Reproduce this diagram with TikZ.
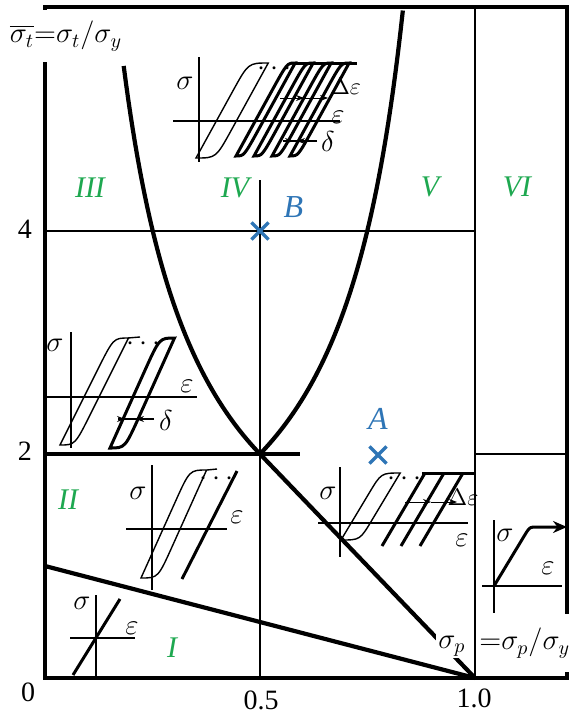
\documentclass[tikz,border=0pt]{standalone}
\usepackage{amsmath}
\usepackage{fontspec}
\setmainfont{Liberation Serif}
\usetikzlibrary{positioning,arrows.meta,shapes.misc}

\definecolor{zonegreen}{RGB}{30,168,80}
\definecolor{ptblue}{RGB}{46,117,182}

% hysteresis loop: [style] bottom x, bottom y, height, slope, width
\newcommand{\hloop}[6][]{%
  \draw[#1] (#2,#3) -- ({#2+0.7*#5*#4},{#3-0.7*#4})
    .. controls ({#2+#5*#4},{#3-#4}) .. ({#2+#5*#4+#6},{#3-#4})
    -- ({#2+0.3*#5*#4+#6},{#3-0.3*#4})
    .. controls ({#2+#6},{#3}) .. (#2,#3) -- cycle;}

\begin{document}
\begin{tikzpicture}[
        x=0.5pt, y=-0.5pt,
        frame/.style={line width=1.7pt},
        bound/.style={line width=2.1pt},
        gridline/.style={line width=0.8pt},
        axis/.style={line width=1pt},
        thinloop/.style={line width=0.7pt},
        thickloop/.style={line width=1.5pt},
        num/.style={font=\fontsize{14}{16}\selectfont, inner sep=1pt},
        sym/.style={font=\fontsize{14}{16}\selectfont, inner sep=1pt},
        small/.style={font=\fontsize{12}{14}\selectfont, inner sep=1pt},
        zone/.style={font=\fontsize{15}{17}\selectfont\itshape, text=zonegreen},
        ptlabel/.style={font=\fontsize{16}{18}\selectfont\itshape, text=ptblue},
        ptcross/.style={cross out, draw=ptblue, line width=1.6pt,
          minimum size=7pt, inner sep=0pt},
        arr/.style={-{Stealth[length=4pt]}}
      ]
      \useasboundingbox (0,0) rectangle (570,718);

      % key points of the diagram
      \coordinate (O)   at (45,678);
      \coordinate (T1)  at (45,566);
      \coordinate (P)   at (260,454);
      \coordinate (Q)   at (475,678);
      \coordinate (H2)  at (300,454);
      \coordinate (L2)  at (45,454);

      % thin grid lines
      \draw[gridline] (45,231) -- (475,231);
      \draw[gridline] (260,180) -- (260,678);
      \draw[gridline] (475,454) -- (567,454);

      % region boundaries
      \draw[bound] (T1) -- (Q);
      \draw[bound] (P) -- (Q);
      \draw[bound] (L2) -- (H2);
      \draw[bound] plot[domain=0.183:0.5, samples=60] ({45+430*\x},{678-112/\x});
      \draw[bound] plot[domain=0.5:0.833, samples=60] ({45+430*\x},{678-112/(1-\x)});

      % frame
      \draw[frame] (45,7) rectangle (567,678);

      % inset in region IV
      \draw[axis] (199,57) -- (199,162);
      \draw[axis] (173,121) -- (340,121);
      \hloop[thinloop]{196}{158}{95}{0.55}{20}
      \foreach \k in {0,...,3} {
        \pgfmathsetmacro\bx{236+18*\k}
        \hloop[thickloop]{\bx}{156}{93}{0.55}{8}
      }
      \draw[thickloop] (295,63) -- (357,63);
      \node[sym] (sigIV) at (185,83) {$\sigma$};
      \node[sym] (epsIV) at (338,117) {$\varepsilon$};
      \node[sym] (dotsIV) at (277,69) {$\cdots$};
      \coordinate (deIVa) at (280,98);
      \coordinate (deIVb) at (304,98);
      \coordinate (deIVc) at (328,98);
      \draw[arr] (deIVa) -- (deIVb);
      \draw[arr] (deIVb) -- (deIVc);
      \node[small, anchor=west] (deIV) at (328,86) {$\Delta\varepsilon$};
      \coordinate (dIVa) at (283,141);
      \coordinate (dIVb) at (317,141);
      \draw[line width=1.1pt] (dIVa) -- (dIVb);
      \draw[arr] (dIVa) -- (293,141);
      \draw[arr] (dIVb) -- (297,141);
      \node[sym] (dIV) at (328,141) {$\delta$};

      % inset in region III
      \draw[axis] (71,332) -- (71,448);
      \draw[axis] (45,397) -- (197,397);
      \hloop[thinloop]{60}{445}{107}{0.5}{15}
      \draw[thinloop] (128,338) -- (140,337);
      \hloop[thickloop]{110}{448}{110}{0.45}{15}
      \node[sym] (sigIII) at (55,345) {$\sigma$};
      \node[sym] (epsIII) at (187,386) {$\varepsilon$};
      \node[sym] (dotsIII) at (146,344) {$\cdots$};
      \coordinate (dIIIa) at (118,419);
      \coordinate (dIIIb) at (154,419);
      \draw[line width=1.1pt] (dIIIa) -- (dIIIb);
      \draw[arr] (dIIIa) -- (125,419);
      \draw[arr] (dIIIb) -- (136,419);
      \node[sym] (dIII) at (166,420) {$\delta$};

      % inset in region II
      \draw[axis] (152,465) -- (152,590);
      \draw[axis] (126,529) -- (227,529);
      \hloop[thinloop]{141}{578}{108}{0.45}{17}
      \draw[thinloop] (207,470) -- (217,469);
      \draw[thickloop] (237,471) -- (182,579);
      \node[sym] (sigII) at (138,493) {$\sigma$};
      \node[sym] (epsII) at (237,517) {$\varepsilon$};
      \node[sym] (dotsII) at (219,479) {$\cdots$};

      % inset near A
      \draw[axis] (340,467) -- (340,557);
      \draw[axis] (318,523) -- (468,523);
      \hloop[thinloop]{341}{540}{67}{0.6}{19}
      \draw[thickloop] (422,473) -- (475,473);
      \foreach \k in {0,1,2}
        \draw[thickloop] (425+19*\k,473) -- (382+19*\k,546);
      \node[sym] (sigA) at (328,493) {$\sigma$};
      \node[sym] (epsA) at (462,540) {$\varepsilon$};
      \node[sym] (dotsA) at (407,479) {$\cdots$};
      \coordinate (deAa) at (405,502);
      \coordinate (deAb) at (431,502);
      \coordinate (deAc) at (457,502);
      \draw[arr] (deAa) -- (deAb);
      \draw[arr] (deAb) -- (deAc);
      \node[small] (deA) at (463,497) {$\Delta\varepsilon$};

      % inset in region VI
      \draw[axis] (494,520) -- (494,613);
      \draw[axis] (482,586) -- (562,586);
      \draw[thickloop, -{Stealth[length=7pt,width=6pt]}] (494,586) -- (526,533)
        .. controls (530,527) .. (537,527) -- (567,527);
      \node[sym] (sigVI) at (505,535) {$\sigma$};
      \node[sym] (epsVI) at (548,568) {$\varepsilon$};

      % inset in region I
      \draw[axis] (96,595) -- (96,677);
      \draw[axis] (70,638) -- (135,638);
      \draw[thickloop] (73,675) -- (120,599);
      \node[sym] (sigI) at (82,603) {$\sigma$};
      \node[sym] (epsI) at (132,628) {$\varepsilon$};

      % axis titles
      \node[sym, fill=white, minimum height=26pt, inner sep=2pt] (tlab) at (66,36)
        {$\overline{\sigma_t}{=}\sigma_t/\sigma_y$};
      \node[sym, fill=white] (plab) at (452,646) {$\sigma_p$};
      \node[sym, fill=white, anchor=west, inner sep=0pt, inner xsep=1pt,
        text width=46pt, align=left, minimum height=29pt] (peq) at (477,643)
        {${=}\sigma_p/\sigma_y$};
      \draw[gridline] (475,7) -- (475,678);

      % tick labels
      \node[num] (n0)  at (28,692)  {0};
      \node[num] (n05) at (261,700) {0.5};
      \node[num] (n10) at (474,698) {1.0};
      \node[num] (n2)  at (25,451)  {2};
      \node[num] (n4)  at (25,229)  {4};

      % region names
      \node[zone] (zI)   at (172,648) {I};
      \node[zone] (zII)  at (68,500)  {II};
      \node[zone] (zIII) at (90,188)  {III};
      \node[zone] (zIV)  at (235,188) {IV};
      \node[zone] (zV)   at (430,187) {V};
      \node[zone] (zVI)  at (517,187) {VI};

      % load points
      \node[ptcross] (B) at (260,231) {};
      \node[ptlabel, above right=-1pt and 4pt of B] (Blab) {B};
      \node[ptcross] (A) at (378,455) {};
      \node[ptlabel, above=5pt of A] (Alab) {A};

    \end{tikzpicture}
\end{document}
